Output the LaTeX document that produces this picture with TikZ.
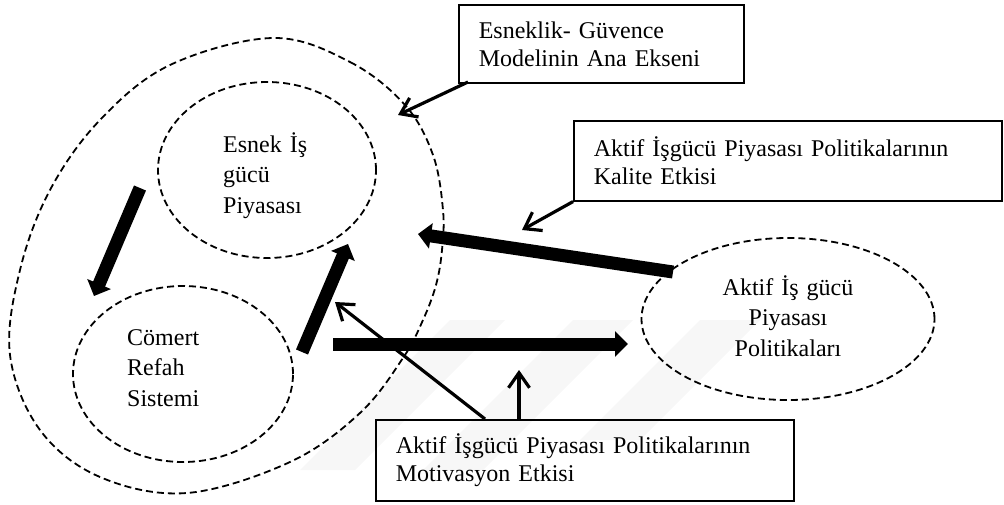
\documentclass[tikz,border=0pt]{standalone}
\usepackage{fontspec}
\setmainfont{Liberation Serif}
\usetikzlibrary{arrows.meta,shapes.geometric}
\begin{document}
\begin{tikzpicture}[x=1pt,y=-1pt,
  txt/.style={font=\fontsize{24}{28}\selectfont},
  box/.style={draw, line width=1.6pt, anchor=north west, inner xsep=20pt,
    inner ysep=0pt, align=left, txt},
  oval/.style={draw, ellipse, dash pattern=on 7pt off 4pt, line width=1.8pt,
    inner sep=0pt},
  ovaltext/.style={inner sep=0pt, font=\fontsize{24}{30.5}\selectfont},
  bigarrow/.style={line width=13pt, -{Triangle[length=13pt,width=25pt]}},
  pointer/.style={line width=3.2pt, -{Straight Barb[length=15pt,width=21pt]}},
  faint/.style={fill=black!3, draw=none}
]
\useasboundingbox (0,0) rectangle (1004,504);

% faint diagonal stripes in the background
\fill[faint] (450,320) -- (505,320) -- (355,470) -- (300,470) -- cycle;
\fill[faint] (573,320) -- (633,320) -- (483,470) -- (423,470) -- cycle;
\fill[faint] (700,320) -- (760,320) -- (640,440) -- (580,440) -- cycle;

% outer dashed outline of the model
\draw[dash pattern=on 7pt off 4pt, line width=1.8pt]
  plot[smooth cycle, tension=0.6] coordinates {
    (273,38) (350,62) (405,105) (433,155) (443,210) (442,250) (436,285)
    (423,320) (403,358) (360,413) (290,462) (187,493) (100,477) (40,430)
    (10,355) (20,270) (50,190) (100,120) (170,65)};

% inner ovals
\node[oval, minimum width=218pt, minimum height=176pt] (esnek) at (267,170) {};
\node[oval, minimum width=220pt, minimum height=176pt] (comert) at (183,374) {};
\node[oval, minimum width=293pt, minimum height=162pt] (aktif) at (788,319) {};

\node[ovaltext, anchor=base west, text width=110pt, align=left]
  (esnektext) at (223,152) {Esnek İş\\gücü\\Piyasası};
\node[ovaltext, anchor=base west, text width=110pt, align=left]
  (comerttext) at (127,345) {Cömert\\Refah\\Sistemi};
\node[ovaltext, anchor=base, text width=200pt, align=center]
  (aktiftext) at (788,295) {Aktif İş gücü\\Piyasası\\Politikaları};

% caption boxes
\node[box, text width=245pt, minimum height=78pt] (eksen) at (458,4)
  {Esneklik- Güvence\\Modelinin Ana Ekseni};
\node[box, text width=388pt, minimum height=80pt] (kalite) at (573,120)
  {Aktif İşgücü Piyasası Politikalarının\\Kalite Etkisi};
\node[box, text width=378pt, minimum height=81pt] (motiv) at (375,419)
  {Aktif İşgücü Piyasası Politikalarının\\Motivasyon Etkisi};

% end points of the heavy arrows
\coordinate (esnekout) at (140,188);
\coordinate (comertin) at (94,296);
\coordinate (comertout) at (302,352);
\coordinate (esnekin) at (348,244);
\coordinate (aktifout) at (673,272);
\coordinate (modelin) at (418,234);
\coordinate (modelout) at (333,344);
\coordinate (aktifin) at (628,344);

\draw[bigarrow] (esnekout) -- (comertin);
\draw[bigarrow] (comertout) -- (esnekin);
\draw[bigarrow] (aktifout) -- (modelin);
\draw[bigarrow] (modelout) -- (aktifin);

% pointers from the caption boxes
\coordinate (eksenfoot) at (468,82);
\coordinate (eksentip) at (398,115);
\coordinate (kalitetip) at (522,230);
\coordinate (motivfootA) at (485,419);
\coordinate (motivtipA) at (335,302);
\coordinate (motivfootB) at (519,419);
\coordinate (motivtipB) at (519,370);

\draw[pointer] (eksenfoot) -- (eksentip);
\draw[pointer] (kalite.south west) -- (kalitetip);
\draw[pointer] (motivfootA) -- (motivtipA);
\draw[pointer] (motivfootB) -- (motivtipB);
\end{tikzpicture}
\end{document}
